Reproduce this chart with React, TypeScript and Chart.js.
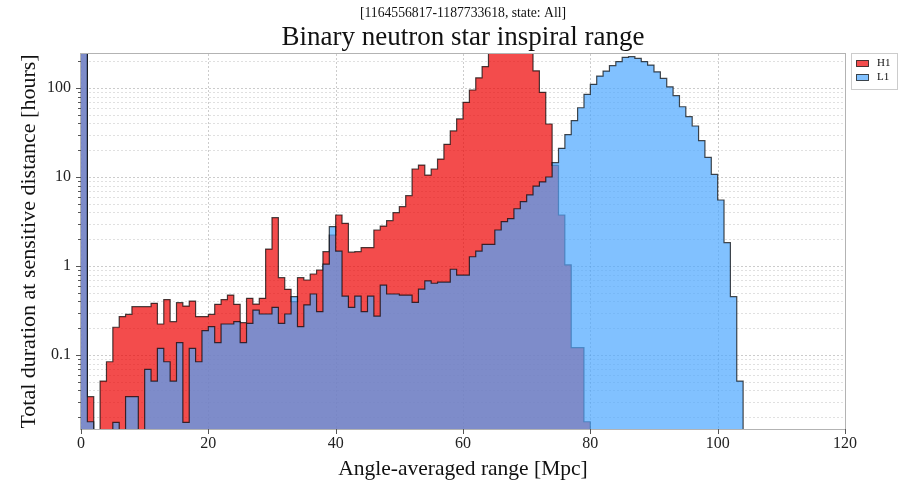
import React, { useEffect, useRef } from 'react';
import { Chart, registerables } from 'chart.js';

Chart.register(...registerables);

// Histogram bins are 1 Mpc wide, starting at 0 Mpc.
const BIN_WIDTH = 1;

// Hours spent in each 1-Mpc range bin (0 = empty bin).
const H1_HOURS = [
  500, 0.034, 0, 0.051, 0.084, 0.205, 0.27, 0.286, 0.349, 0.349,
  0.349, 0.381, 0.223, 0.42, 0.237, 0.387, 0.355, 0.404, 0.27, 0.27,
  0.286, 0.371, 0.42, 0.472, 0.371, 0.231, 0.433, 0.374, 0.433, 1.55,
  3.49, 0.739, 0.547, 0.397, 0.739, 0.696, 0.813, 0.902, 1.45, 2.23,
  3.74, 3.02, 1.43, 1.45, 1.61, 1.61, 2.54, 2.81, 3.23, 3.97,
  4.64, 6.17, 12.3, 13.6, 10.5, 12.3, 15.9, 23.3, 32.9, 44.9,
  69, 95, 130, 174, 280, 310, 330, 340, 320, 300,
  270, 156, 89.4, 39.4, 13.5, 3.74, 1.03, 0.121, 0.121, 0.0178,
];

const L1_HOURS = [
  800, 0.0178, 0, 0, 0, 0.0175, 0, 0.034, 0.034, 0,
  0.069, 0.051, 0.119, 0.084, 0.051, 0.138, 0.0175, 0.119, 0.084, 0.188,
  0.208, 0.138, 0.223, 0.223, 0.237, 0.138, 0.227, 0.32, 0.289, 0.289,
  0.343, 0.227, 0.289, 0.452, 0.208, 0.365, 0.485, 0.307, 1.05, 2.77,
  1.47, 0.46, 0.343, 0.46, 0.307, 0.46, 0.274, 0.61, 0.485, 0.485,
  0.47, 0.47, 0.39, 0.55, 0.68, 0.64, 0.66, 0.66, 0.92, 0.79,
  0.79, 1.27, 1.47, 1.75, 1.75, 2.54, 3.15, 3.4, 4.4, 5.3,
  6.3, 7.9, 8.8, 10, 14.5, 21, 30, 43, 60, 85,
  110, 136, 155, 178, 198, 221, 225, 215, 198, 181,
  152, 128, 103, 82, 61.6, 47.6, 37.4, 25.6, 16.6, 10.7,
  5.52, 1.83, 0.452, 0.051,
];

const SERIES_NAMES = ['H1', 'L1'];
const X_TICKS = [0, 20, 40, 60, 80, 100, 120];
const Y_TICKS = [0.1, 1, 10, 100];
const X_MIN = 0;
const X_MAX = 120;
const Y_MIN = 0.01475;
const Y_MAX = 241;

const TITLE = 'Binary neutron star inspiral range';
const SUBTITLE = '[1164556817-1187733618, state: All]';
const X_LABEL = 'Angle-averaged range [Mpc]';
const Y_LABEL = 'Total duration at sensitive distance [hours]';

const H1_FILL = 'rgba(238, 0, 0, 0.7)';
const L1_FILL = 'rgba(75, 166, 255, 0.7)';
const EDGE = 'rgba(0, 0, 0, 0.7)';
const SERIF = '"Liberation Serif", "DejaVu Serif", serif';

// Build step-histogram vertices: each bin holds its value from its left edge
// to the next edge. Empty bins are sent below the visible floor of the log axis.
function stepPoints(hours: number[]) {
  const floor = Y_MIN / 10;
  const pts = hours.map((h, i) => ({ x: i * BIN_WIDTH, y: h > 0 ? h : floor }));
  pts.push({ x: hours.length * BIN_WIDTH, y: floor });
  return pts;
}

// Minor/major positions for the log grid: 1..9 x 10^k inside the axis range.
function logGridValues(min: number, max: number) {
  const out: { v: number; major: boolean }[] = [];
  for (let e = Math.floor(Math.log10(min)); e <= Math.ceil(Math.log10(max)); e++) {
    for (let m = 1; m <= 9; m++) {
      const v = m * Math.pow(10, e);
      if (v >= min && v <= max) out.push({ v, major: m === 1 });
    }
  }
  return out;
}

const decorations = {
  id: 'decorations',
  beforeDatasetsDraw(chart: any) {
    const { ctx, chartArea: a, scales } = chart;
    const x = scales.x;
    const y = scales.y;
    ctx.save();
    ctx.beginPath();
    ctx.rect(a.left, a.top, a.right - a.left, a.bottom - a.top);
    ctx.clip();
    ctx.lineWidth = 1;
    ctx.setLineDash([2, 2]);
    for (const g of logGridValues(Y_MIN, Y_MAX)) {
      const py = Math.round(y.getPixelForValue(g.v)) + 0.5;
      ctx.strokeStyle = g.major ? 'rgba(0,0,0,0.2)' : 'rgba(0,0,0,0.12)';
      ctx.beginPath();
      ctx.moveTo(a.left, py);
      ctx.lineTo(a.right, py);
      ctx.stroke();
    }
    ctx.strokeStyle = 'rgba(0,0,0,0.2)';
    for (const t of X_TICKS) {
      const px = Math.round(x.getPixelForValue(t)) + 0.5;
      ctx.beginPath();
      ctx.moveTo(px, a.top);
      ctx.lineTo(px, a.bottom);
      ctx.stroke();
    }
    ctx.restore();
  },
  afterDatasetsDraw(chart: any) {
    const { ctx, chartArea: a, scales } = chart;
    const x = scales.x;
    const y = scales.y;
    ctx.save();
    // axes frame
    ctx.strokeStyle = '#b3b3b3';
    ctx.lineWidth = 1;
    ctx.strokeRect(Math.round(a.left) - 0.5, Math.round(a.top) - 0.5,
      Math.round(a.right - a.left) + 1, Math.round(a.bottom - a.top) + 1);
    // tick marks (outward)
    ctx.strokeStyle = '#555';
    for (const t of X_TICKS) {
      const px = Math.round(x.getPixelForValue(t)) + 0.5;
      ctx.beginPath();
      ctx.moveTo(px, a.bottom);
      ctx.lineTo(px, a.bottom + 5);
      ctx.stroke();
    }
    for (const g of logGridValues(Y_MIN, Y_MAX)) {
      const py = Math.round(y.getPixelForValue(g.v)) + 0.5;
      ctx.beginPath();
      ctx.moveTo(a.left, py);
      ctx.lineTo(a.left - (g.major ? 5 : 3), py);
      ctx.stroke();
    }
    ctx.restore();
  },
  afterDraw(chart: any) {
    const { ctx, chartArea: a } = chart;
    const cx = (a.left + a.right) / 2;
    const cy = (a.top + a.bottom) / 2;
    ctx.save();
    ctx.fillStyle = '#111';
    ctx.textAlign = 'center';
    ctx.textBaseline = 'alphabetic';
    ctx.font = `13.7px ${SERIF}`;
    ctx.fillText(SUBTITLE, cx, 17);
    ctx.font = `27px ${SERIF}`;
    ctx.fillText(TITLE, cx, 45);
    ctx.font = `21.5px ${SERIF}`;
    ctx.fillText(X_LABEL, cx, 475);
    ctx.save();
    ctx.translate(35, cy);
    ctx.rotate(-Math.PI / 2);
    ctx.font = `22px ${SERIF}`;
    ctx.fillText(Y_LABEL, 0, 0);
    ctx.restore();

    // legend
    const lx = 851.5;
    const ly = 53.5;
    ctx.strokeStyle = '#cccccc';
    ctx.lineWidth = 1;
    ctx.fillStyle = '#ffffff';
    ctx.fillRect(lx, ly, 46, 36);
    ctx.strokeRect(lx, ly, 46, 36);
    const fills = [H1_FILL, L1_FILL];
    ctx.font = `11px ${SERIF}`;
    ctx.textAlign = 'left';
    ctx.textBaseline = 'middle';
    SERIES_NAMES.forEach((name, i) => {
      const yy = ly + 10 + i * 14;
      ctx.fillStyle = fills[i];
      ctx.fillRect(856.5, yy - 3, 12, 6);
      ctx.strokeStyle = EDGE;
      ctx.strokeRect(856.5, yy - 3, 12, 6);
      ctx.fillStyle = '#111';
      ctx.fillText(name, 877, yy);
    });
    ctx.restore();
  },
};

export default function App() {
  const canvasRef = useRef<HTMLCanvasElement | null>(null);

  useEffect(() => {
    document.body.style.margin = '0';
    const canvas = canvasRef.current;
    if (!canvas) return;
    const tickFont = { family: SERIF, size: 16 };
    const chart = new Chart(canvas, {
      type: 'line',
      data: {
        datasets: [
          {
            label: SERIES_NAMES[0],
            data: stepPoints(H1_HOURS),
            stepped: 'before',
            fill: 'start',
            backgroundColor: H1_FILL,
            borderColor: EDGE,
            borderWidth: 1.2,
            pointRadius: 0,
            order: 2,
          },
          {
            label: SERIES_NAMES[1],
            data: stepPoints(L1_HOURS),
            stepped: 'before',
            fill: 'start',
            backgroundColor: L1_FILL,
            borderColor: EDGE,
            borderWidth: 1.2,
            pointRadius: 0,
            order: 1,
          },
        ],
      },
      options: {
        animation: false,
        responsive: false,
        devicePixelRatio: 1,
        layout: { padding: { top: 54, right: 56, bottom: 0, left: 0 } },
        plugins: {
          legend: { display: false },
          title: { display: false },
          tooltip: { enabled: false },
        },
        scales: {
          x: {
            type: 'linear',
            min: X_MIN,
            max: X_MAX,
            afterBuildTicks: (s: any) => {
              s.ticks = X_TICKS.map((v) => ({ value: v }));
            },
            afterFit: (s: any) => {
              s.height = 54;
            },
            grid: { display: false, drawTicks: false },
            border: { display: false },
            ticks: {
              font: tickFont,
              color: '#222',
              padding: 5,
              maxRotation: 0,
              autoSkip: false,
              callback: (v: any) => String(v),
            },
          },
          y: {
            type: 'logarithmic',
            min: Y_MIN,
            max: Y_MAX,
            afterBuildTicks: (s: any) => {
              s.ticks = Y_TICKS.map((v) => ({ value: v, major: true }));
            },
            afterFit: (s: any) => {
              s.width = 81;
            },
            grid: { display: false, drawTicks: false },
            border: { display: false },
            ticks: {
              font: tickFont,
              color: '#222',
              padding: 10,
              autoSkip: false,
              callback: (v: any) => String(v),
            },
          },
        },
      },
      plugins: [decorations],
    } as any);
    return () => chart.destroy();
  }, []);

  return (
    <div style={{ width: 901, height: 483 }}>
      <canvas ref={canvasRef} width={901} height={483} style={{ display: 'block' }} />
    </div>
  );
}
